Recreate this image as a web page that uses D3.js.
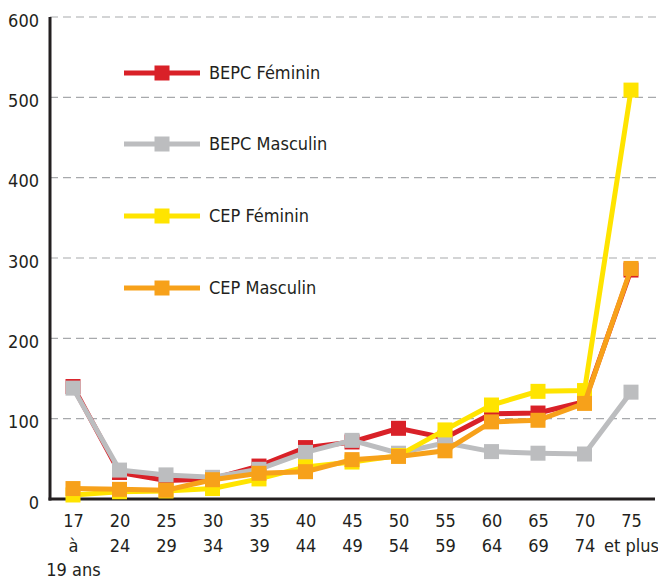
<!DOCTYPE html>
<html>
<head>
<meta charset="utf-8">
<script src="https://cdn.jsdelivr.net/npm/d3@7"></script>
<style>
  body { margin: 0; background: #fff; }
  text { font-family: "Liberation Sans Narrow", "DejaVu Sans Condensed", sans-serif; fill: #231f20; }
</style>
</head>
<body>
<div id="chart"></div>
<script>
// Tranches d'âge (3 lignes par étiquette)
const ageGroups = ["17", "20", "25", "30", "35", "40", "45", "50", "55", "60", "65", "70", "75"];
const ageLabels = [
  ["17", "à", "19 ans"], ["20", "24"], ["25", "29"], ["30", "34"], ["35", "39"],
  ["40", "44"], ["45", "49"], ["50", "54"], ["55", "59"], ["60", "64"],
  ["65", "69"], ["70", "74"], ["75", "et plus"]
];
const yTicks = [0, 100, 200, 300, 400, 500, 600];

const bepcFeminin  = [140, 33, 23, 25, 41, 64, 71, 88, 76, 106, 107, 121, 285];
const bepcMasculin = [138, 36, 30, 27, 37, 58, 73, 57, 70, 59, 57, 56, 133];
const cepFeminin   = [5, 9, 10, 13, 25, 40, 46, 54, 86, 117, 134, 135, 509];
const cepMasculin  = [13, 12, 11, 24, 32, 34, 49, 53, 60, 96, 98, 119, 287];

const series = [
  { name: "BEPC Féminin",  values: bepcFeminin,  color: "#d92128" },
  { name: "BEPC Masculin", values: bepcMasculin, color: "#bcbdbf" },
  { name: "CEP Féminin",   values: cepFeminin,   color: "#ffe400" },
  { name: "CEP Masculin",  values: cepMasculin,  color: "#f7a11a" }
];

const width = 658, height = 580;
const svg = d3.select("#chart").append("svg")
  .attr("width", width)
  .attr("height", height);

const x = d3.scalePoint().domain(ageGroups).range([73, 631]);
const y = d3.scaleLinear().domain([0, 600]).range([499, 17]);

// grille pointillée
svg.append("g")
  .selectAll("line")
  .data(yTicks.filter(d => d > 0))
  .join("line")
  .attr("x1", 50).attr("x2", width)
  .attr("y1", d => y(d)).attr("y2", d => y(d))
  .attr("stroke", "#a7a9ac")
  .attr("stroke-width", 1.2)
  .attr("stroke-dasharray", "8,5");

// axe Y
const yAxis = svg.append("g")
  .attr("transform", "translate(50,0)")
  .call(d3.axisLeft(y).tickValues(yTicks).tickSize(0).tickPadding(11));
yAxis.select(".domain").remove();
yAxis.selectAll("text")
  .attr("dy", "0.5em")
  .style("font-size", "18px");

// axe X (étiquettes sur plusieurs lignes)
const xAxis = svg.append("g")
  .attr("transform", "translate(0,499)")
  .call(d3.axisBottom(x).tickSize(0).tickFormat(""));
xAxis.select(".domain").remove();
xAxis.selectAll(".tick").each(function(d, i) {
  const t = d3.select(this).append("text")
    .attr("text-anchor", "middle")
    .style("font-size", "18px");
  ageLabels[i].forEach((s, j) => {
    t.append("tspan").attr("x", 0).attr("y", 28 + j * 24.5).text(s);
  });
});

// lignes d'axe
svg.append("line")
  .attr("x1", 50).attr("x2", 50).attr("y1", 17).attr("y2", 500.5)
  .attr("stroke", "#231f20").attr("stroke-width", 3);
svg.append("line")
  .attr("x1", 48.5).attr("x2", 655).attr("y1", 499).attr("y2", 499)
  .attr("stroke", "#231f20").attr("stroke-width", 3);

// séries
const line = d3.line()
  .x((d, i) => x(ageGroups[i]))
  .y(d => y(d));
const ms = 15;

series.forEach(s => {
  const g = svg.append("g");
  g.append("path")
    .datum(s.values)
    .attr("d", line)
    .attr("fill", "none")
    .attr("stroke", s.color)
    .attr("stroke-width", 5);
  g.selectAll("rect")
    .data(s.values)
    .join("rect")
    .attr("x", (d, i) => x(ageGroups[i]) - ms / 2)
    .attr("y", d => y(d) - ms / 2)
    .attr("width", ms)
    .attr("height", ms)
    .attr("fill", s.color);
});

// légende
const legendY = [73, 144, 216, 288];
const legend = svg.append("g")
  .selectAll("g")
  .data(series)
  .join("g")
  .attr("transform", (d, i) => `translate(124,${legendY[i]})`);
legend.append("line")
  .attr("x1", 0).attr("x2", 76)
  .attr("stroke", d => d.color).attr("stroke-width", 5);
legend.append("rect")
  .attr("x", 38 - ms / 2).attr("y", -ms / 2)
  .attr("width", ms).attr("height", ms)
  .attr("fill", d => d.color);
legend.append("text")
  .attr("x", 85)
  .attr("dy", "0.36em")
  .style("font-size", "18px")
  .text(d => d.name);
</script>
</body>
</html>
